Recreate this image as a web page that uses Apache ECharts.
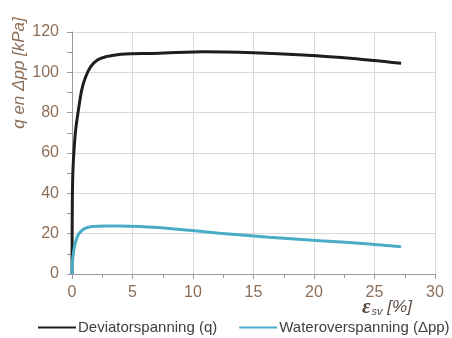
<!DOCTYPE html>
<html>
<head>
<meta charset="utf-8">
<script src="https://cdn.jsdelivr.net/npm/echarts@6/dist/echarts.min.js"></script>
<style>html,body{margin:0;padding:0;background:#fff}#c{width:452px;height:338px}</style>
</head>
<body>
<div id="c"></div>
<script>
// strain eps_sv [%]
const qStrain = [0, 0.01, 0.03, 0.08, 0.17, 0.3, 0.53, 0.8, 1.13, 1.55, 2.1, 2.79, 3.6, 4.4, 6.7, 10.8, 15, 19.1, 23.2, 27.2];
// deviator stress q [kPa]
const qValues = [0, 16.9, 38, 51.5, 61.5, 71.4, 81.3, 91.2, 97.8, 102.8, 106.1, 107.7, 108.6, 109.1, 109.4, 110.2, 109.7, 108.6, 106.9, 104.5];
const ppStrain = [0, 0.03, 0.08, 0.2, 0.44, 0.72, 1.13, 1.68, 2.8, 3.94, 8.07, 12.2, 16.3, 20.5, 24.6, 27.2];
// excess pore pressure dpp [kPa]
const ppValues = [0, 5.4, 8.6, 13.5, 18.5, 21, 22.7, 23.5, 23.8, 23.8, 22.6, 20.2, 18.2, 16.5, 14.9, 13.5];
const seriesNames = ['Deviatorspanning (q)', 'Wateroverspanning (\u0394pp)'];
const yTitle = 'q en \u0394pp [kPa]';

const labelColor = '#8d6e57';
const chart = echarts.init(document.getElementById('c'));
chart.setOption({
  animation: false,
  grid: {left: 72, right: 17, top: 32, bottom: 64},
  legend: {
    left: 38, top: 320, width: 414, padding: 0, itemWidth: 38, itemHeight: 2, itemGap: 22, icon: 'rect',
    textStyle: {fontFamily: 'Liberation Sans', fontSize: 15, color: '#404040', padding: [0, 0, 0, -3]},
    data: seriesNames
  },
  xAxis: {
    type: 'value', min: 0, max: 30, interval: 5,
    axisLine: {lineStyle: {color: '#9a9a9a', width: 1}},
    axisTick: {show: true, length: 5, lineStyle: {color: '#9a9a9a'}},
    minorTick: {show: true, splitNumber: 2, length: 4, lineStyle: {color: '#9a9a9a'}},
    splitLine: {show: true, lineStyle: {color: '#d9d9d9'}},
    axisLabel: {color: labelColor, fontFamily: 'Liberation Sans', fontSize: 16, margin: 11}
  },
  yAxis: {
    type: 'value', min: 0, max: 120, interval: 20,
    axisLine: {show: true, lineStyle: {color: '#9a9a9a', width: 1}},
    axisTick: {show: true, length: 5, lineStyle: {color: '#9a9a9a'}},
    minorTick: {show: true, splitNumber: 2, length: 5, lineStyle: {color: '#9a9a9a'}},
    splitLine: {show: true, lineStyle: {color: '#d9d9d9'}},
    axisLabel: {color: labelColor, fontFamily: 'Liberation Sans', fontSize: 16, margin: 13}
  },
  series: [
    {
      name: seriesNames[0], type: 'line', showSymbol: false, smooth: 0.25,
      color: '#1e1e1e', lineStyle: {width: 3, color: '#1e1e1e'},
      data: qStrain.map((x, i) => [x, qValues[i]])
    },
    {
      name: seriesNames[1], type: 'line', showSymbol: false, smooth: 0.25,
      color: '#4aadc8', lineStyle: {width: 3, color: '#4aadc8'},
      data: ppStrain.map((x, i) => [x, ppValues[i]])
    }
  ],
  graphic: [
    {
      type: 'text', x: 19, y: 73, rotation: Math.PI / 2, originX: 0, originY: 0,
      style: {text: yTitle, fontFamily: 'Liberation Sans', fontStyle: 'italic', fontSize: 17,
        fill: labelColor, align: 'center', verticalAlign: 'middle'}
    },
    {
      type: 'text', left: 362, top: 297,
      style: {
        text: '{e|\u03b5}{s|sv}{p| [%]}',
        rich: {
          e: {fontFamily: 'Liberation Serif', fontStyle: 'italic', fontWeight: 'bold', fontSize: 21, fill: '#5a4a40', verticalAlign: 'bottom'},
          s: {fontFamily: 'Liberation Sans', fontStyle: 'italic', fontSize: 11, fill: '#5a4a40', padding: [8, 0, 0, 1]},
          p: {fontFamily: 'Liberation Sans', fontStyle: 'italic', fontSize: 17, fill: '#5a4a40'}
        }
      }
    }
  ]
});
</script>
</body>
</html>
